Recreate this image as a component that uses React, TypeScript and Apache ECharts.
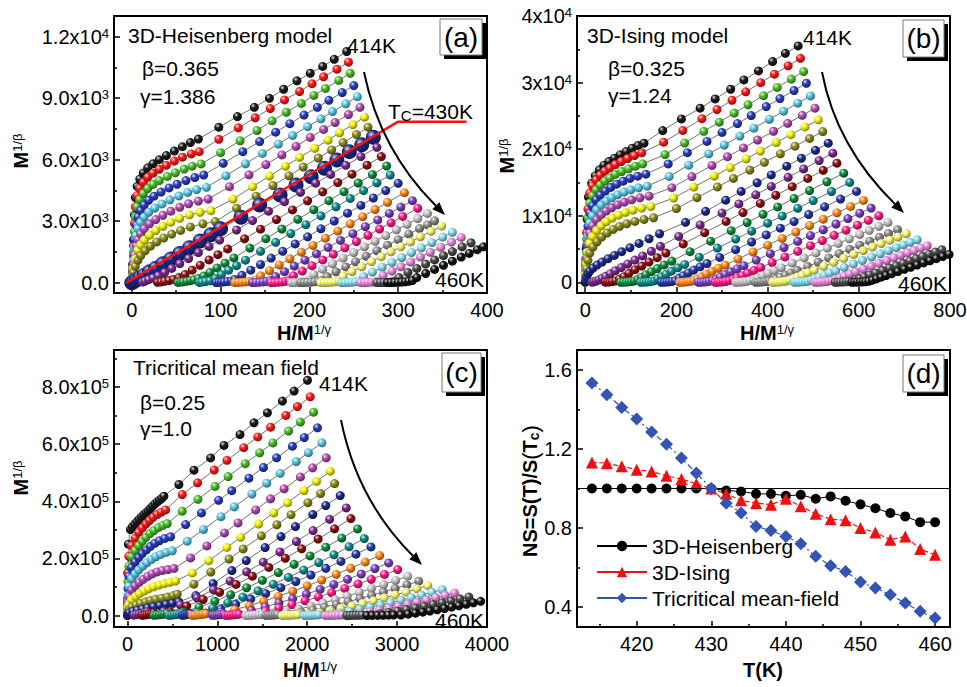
import React, { useEffect, useRef } from "react";
import * as echarts from "echarts";

const FONT = '"Liberation Sans", Arial, Helvetica, sans-serif';

// ---------- data ----------
const isoTemps = [414, 416, 418, 420, 422, 424, 426, 428, 430, 432, 434, 436, 438, 440, 442, 444, 446, 448, 450, 452, 454, 456, 458, 460];

// Panel (a) 3D-Heisenberg: flat [x, y, x, y, ...] per isotherm  (x = H/M^(1/γ), y = M^(1/β))
const heisCurves: number[][] = [
  [1,900,2,2100,3,3300,4,4150,6,4700,9,5050,13,5350,18,5600,24,5800,31,6000,39,6200,48,6420,57,6630,66,6830,75,7000,98,7580,119,8100,138,8550,155,8990,171,9430,186,9840,201,10210,215,10540,228,10890,242,11270],
  [1,700,2,1800,3,2900,4,3700,6,4250,9,4600,13,4900,18,5140,24,5340,31,5530,39,5720,48,5930,57,6120,67,6280,76,6390,98,6990,120,7550,139,8040,156,8490,172,8910,189,9320,203,9700,216,10040,231,10410,244,10750],
  [1,600,2,1500,3,2500,4,3200,6,3700,9,4050,13,4350,18,4590,24,4790,31,4980,40,5180,49,5360,59,5540,68,5680,78,5790,100,6340,122,6920,141,7420,158,7890,174,8310,191,8740,205,9130,218,9470,233,9860,246,10210],
  [1,500,2,1300,3,2100,5,2800,7,3200,10,3520,14,3790,19,4020,25,4220,33,4420,42,4620,51,4800,61,4980,71,5130,81,5250,103,5820,125,6390,144,6880,162,7340,178,7750,194,8170,209,8550,222,8890,237,9270,250,9610],
  [1,400,2,1100,3,1700,5,2300,7,2650,10,2950,14,3200,19,3430,26,3640,34,3840,43,4040,53,4230,63,4400,73,4540,84,4650,106,5220,128,5800,147,6300,165,6760,181,7180,198,7610,213,7990,226,8340,241,8720,254,9070],
  [1,350,2,900,3,1350,5,1800,7,2100,10,2380,14,2630,20,2870,27,3080,35,3290,44,3490,54,3680,64,3850,75,3980,86,4080,110,4680,132,5260,151,5760,169,6230,185,6650,201,7080,216,7470,229,7810,244,8200,257,8550],
  [1,300,2,700,4,1150,7,1600,10,1850,14,2080,20,2320,27,2540,35,2750,44,2950,54,3140,65,3310,77,3430,89,3510,114,4080,136,4680,155,5200,173,5680,189,6110,206,6550,221,6950,234,7310,249,7710,262,8070],
  [1,250,2,500,4,800,7,1100,10,1320,15,1560,21,1780,28,1990,36,2180,45,2370,55,2550,66,2720,80,2870,94,2980,118,3630,140,4220,159,4740,177,5210,193,5640,210,6080,225,6470,238,6830,253,7220,266,7580],
  [0,0,2,50,5,130,9,240,14,370,20,530,27,710,35,920,44,1160,54,1420,65,1710,77,2030,89,2340,100,2630,123,3190,144,3790,167,4280,185,4760,202,5170,217,5580,231,5980,245,6390,259,6720,272,7090],
  [12,30,15,80,19,150,24,230,30,340,37,500,45,700,54,930,64,1180,75,1470,87,1770,99,2080,118,2570,136,3030,154,3490,172,3950,190,4410,207,4850,224,5280,241,5720,258,6150,276,6600],
  [29,20,33,40,37,70,42,110,47,160,53,250,60,400,68,610,77,850,87,1110,97,1370,108,1650,127,2140,145,2610,163,3080,181,3550,198,3990,215,4430,232,4880,248,5290,265,5730,281,6150],
  [52,15,55,30,58,45,62,70,66,100,70,140,75,210,81,330,88,500,96,720,105,950,115,1210,133,1690,151,2150,169,2620,187,3090,205,3560,222,4000,239,4440,255,4860,271,5270,287,5690],
  [76,15,79,30,83,55,88,95,94,210,101,400,109,610,118,830,128,1100,145,1530,162,1970,179,2400,196,2830,213,3260,230,3700,246,4110,261,4490,276,4870,291,5250],
  [95,10,98,15,101,25,104,40,108,60,112,90,116,160,124,360,134,610,145,890,157,1200,170,1530,184,1890,198,2240,213,2630,228,3010,243,3390,258,3770,272,4130,286,4490,300,4845],
  [116,10,120,15,124,25,128,40,132,60,136,90,140,150,145,340,155,590,166,870,178,1170,191,1490,204,1820,218,2170,232,2520,246,2870,260,3220,274,3570,288,3920,307,4390],
  [136,10,140,15,144,25,148,40,152,65,156,110,162,300,172,540,183,810,195,1100,208,1410,221,1720,235,2060,249,2390,263,2730,277,3060,290,3380,303,3690,316,4000],
  [157,10,161,15,165,25,169,40,173,70,177,120,182,340,192,570,203,830,215,1110,227,1390,240,1700,253,2010,266,2310,279,2620,292,2920,305,3230,322,3626],
  [180,10,184,15,188,25,192,40,196,65,200,110,205,400,215,660,226,920,238,1200,250,1470,262,1750,274,2020,286,2300,298,2580,310,2850,322,3130,333,3380],
  [190,8,194,12,198,18,202,28,206,45,210,75,214,120,220,300,230,530,241,770,252,1020,264,1290,276,1560,288,1830,300,2100,312,2370,324,2640,333,2820,341,3020],
  [213,8,217,12,221,18,225,28,229,45,233,80,238,320,248,540,259,780,270,1030,281,1270,292,1510,303,1750,314,1990,325,2240,337,2500,349,2760],
  [236,8,240,12,244,18,248,28,252,45,256,80,261,310,271,520,282,760,293,990,304,1230,315,1470,326,1700,338,1960,350,2220,361,2455],
  [258,8,262,12,266,18,270,28,274,45,278,80,283,360,293,570,303,780,314,1010,325,1250,336,1480,348,1730,360,1980,371,2210],
  [276,6,280,10,284,15,288,22,292,35,296,80,301,250,311,500,321,700,331,910,341,1110,351,1320,361,1520,372,1750,382,1950],
  [288,6,292,10,296,14,300,20,304,30,308,45,312,70,316,110,321,250,331,450,341,650,351,850,361,1050,371,1250,380,1430,389,1610,396,1750],
];
const heisTcLine = [[-6, 0], [300, 7850], [377, 7850]];

// Panel (b) 3D-Ising
const isingCurves: number[][] = [
  [0,0,2,5000,4,9500,7,12800,14,14900,22,16000,31,16900,41,17600,52,18150,64,18650,77,19150,90,19650,103,20150,116,20550,129,20900,170,22800,211,24550,252,26150,285,27550,319,29000,348,30400,380,31750,411,33150,439,34400,467,35500],
  [1,3500,3,7500,6,11000,10,13400,16,14500,24,15400,33,16100,43,16700,54,17200,66,17700,79,18150,93,18600,108,19050,124,19450,172,21050,214,22810,256,24580,289,25960,322,27350,352,28610,385,29990,415,31260,445,32520,472,33650],
  [1,3000,3,6500,6,9700,10,11900,16,13000,24,13900,33,14600,43,15200,54,15700,66,16200,80,16650,95,17050,110,17450,126,17800,175,19190,218,20930,260,22680,294,24050,327,25420,357,26670,391,28040,421,29280,452,30530,479,31650],
  [1,2500,3,5500,6,8400,10,10400,16,11500,24,12400,33,13100,44,13700,56,14250,69,14750,83,15200,98,15600,115,15950,133,16250,182,17780,224,19480,267,21170,300,22510,334,23840,364,25050,397,26390,427,27600,458,28810,485,29900],
  [1,2000,3,4500,6,7000,10,8900,16,10000,25,10900,35,11600,46,12200,58,12700,71,13150,85,13550,100,13900,117,14200,136,14450,184,15910,227,17600,271,19300,305,20620,339,21960,370,23160,404,24490,435,25700,466,26910,494,28000],
  [1,1600,3,3600,6,5700,10,7400,16,8500,25,9400,35,10100,46,10700,58,11200,71,11650,86,12050,102,12400,120,12700,140,12950,190,14220,234,15890,278,17560,312,18870,347,20190,378,21380,413,22690,444,23880,476,25080,504,26150],
  [1,1200,3,2800,6,4500,10,5900,16,6900,25,7800,35,8500,46,9100,59,9650,73,10100,88,10500,105,10850,124,11150,144,11400,194,12670,238,14310,283,15950,318,17240,353,18540,384,19710,419,21000,451,22170,482,23340,511,24400],
  [1,900,3,2000,6,3300,10,4400,17,5300,26,6100,36,6800,48,7400,61,7950,75,8400,91,8800,109,9150,129,9450,150,9700,200,11090,245,12710,290,14330,325,15600,361,16870,393,18030,428,19300,460,20450,492,21610,521,22650],
  [1,300,3,800,6,1300,10,1700,17,2150,26,2600,37,3050,50,3550,64,4050,80,4600,98,5200,118,5850,140,6550,163,7300,220,9010,264,10670,308,12340,342,13650,377,14950,408,16140,442,17450,474,18640,505,19830,533,20900],
  [15,30,19,80,24,200,30,380,37,620,45,900,55,1300,66,1750,79,2230,93,2750,109,3340,126,3970,145,4670,165,5410,205,6890,252,8630,300,10410,337,11780,374,13150,408,14410,445,15770,479,17030,513,18290,543,19400],
  [44,20,49,40,54,70,60,120,67,220,75,500,85,850,96,1350,109,1900,124,2450,140,3050,158,3700,177,4400,215,5770,262,7460,309,9150,346,10480,384,11850,418,13080,454,14370,488,15600,522,16820,552,17900],
  [78,15,84,30,90,50,96,80,102,130,108,220,115,450,123,780,133,1150,145,1600,158,2080,173,2610,190,3200,230,4600,275,6180,320,7760,355,8980,390,10210,422,11330,458,12590,492,13780,530,15110,567,16400],
  [122,15,128,30,134,50,140,80,146,140,152,250,159,550,167,850,177,1230,189,1680,203,2180,218,2690,250,3780,290,5140,330,6500,365,7690,400,8880,432,9970,466,11120,500,12280,540,13640,580,15000],
  [167,15,173,30,179,50,185,80,191,140,198,260,206,650,215,1000,226,1420,238,1850,252,2330,267,2830,295,3750,330,4910,365,6060,397,7120,428,8140,458,9130,490,10190,525,11340,560,12500,595,13650],
  [207,15,213,30,219,50,225,80,231,140,238,260,246,500,255,850,266,1250,278,1660,292,2120,307,2600,335,3500,368,4560,400,5580,432,6600,462,7560,492,8520,522,9480,552,10440,582,11400,610,12300],
  [248,15,254,30,260,50,266,80,272,140,279,260,287,480,296,800,307,1190,319,1590,333,2030,348,2500,375,3340,406,4300,436,5230,466,6160,494,7030,522,7900,550,8760,576,9570,602,10380,627,11150],
  [285,15,291,30,297,50,303,80,309,140,316,260,324,450,333,700,344,1000,356,1360,370,1780,385,2230,410,2980,438,3820,466,4660,494,5500,520,6280,546,7060,572,7840,597,8590,621,9310,644,10000],
  [330,15,336,30,342,50,348,80,354,140,361,260,369,440,378,700,389,1020,401,1370,415,1780,430,2210,454,2910,480,3660,506,4420,531,5140,555,5840,579,6540,602,7200,623,7810,644,8420,664,9000],
  [374,15,380,30,386,50,392,80,398,130,404,200,411,300,419,520,428,780,439,1080,451,1420,465,1800,488,2380,511,3030,534,3670,557,4320,580,4960,602,5580,624,6190,645,6780,665,7340,685,7900],
  [411,15,417,30,423,50,429,80,435,120,441,190,448,340,456,560,465,810,476,1110,488,1440,502,1830,523,2410,545,3010,567,3600,589,4200,610,4760,630,5300,649,5820,668,6330,686,6810,704,7300],
  [459,15,465,30,471,50,477,80,483,120,489,190,496,340,504,540,513,780,524,1070,536,1390,549,1740,568,2240,588,2760,608,3280,628,3800,647,4290,665,4760,682,5200,698,5620,713,6010,728,6400],
  [504,15,510,30,516,50,522,80,528,120,534,180,541,280,549,470,558,700,568,950,580,1250,593,1580,610,2000,627,2430,644,2850,661,3280,677,3680,692,4050,707,4430,721,4780,736,5150,750,5500],
  [548,12,554,25,560,40,566,60,572,90,578,130,585,200,593,370,602,580,612,820,624,1110,637,1420,652,1780,667,2140,682,2500,697,2860,712,3220,726,3560,740,3890,754,4230,768,4560,782,4900],
  [585,10,591,20,597,32,603,48,609,70,615,100,622,160,630,320,639,540,649,770,660,1030,672,1300,686,1620,700,1950,714,2270,728,2590,742,2910,756,3230,770,3560,784,3880,798,4200],
];

// Panel (c) Tricritical mean field
const tricCurves: number[][] = [
  [0,0,4,150000,10,250000,33,301000,55,311000,80,320000,105,329000,130,337000,155,345000,180,353000,205,360000,230,367000,255,375000,280,383000,305,391000,330,398000,355,404000,380,410000,405,418000,572,459000,740,509000,925,552000,1074,596000,1252,634000,1408,675000,1557,710000,1724,751000,1854,786000,2003,824000],
  [1,60000,5,150000,15,207800,45,245000,85,271000,125,291000,165,307000,205,321000,245,333000,285,344000,330,354000,375,362000,424,370000,609,423800,780,464900,965,509400,1107,543600,1293,588100,1449,625700,1592,659900,1762,701000,1891,731800,2033,766000],
  [1,50000,5,120000,15,172800,45,206000,85,228000,125,245000,165,260000,205,274000,250,287000,295,298000,345,308000,395,316000,442,322000,609,365500,784,407100,974,452200,1120,486800,1310,531900,1471,570100,1617,604700,1792,646300,1924,677500,2070,712200],
  [1,40000,5,95000,15,137800,45,168000,85,188000,125,203000,165,217000,210,230000,255,242000,305,253000,355,262000,415,270000,479,276000,647,318800,823,359400,1014,403500,1160,437300,1351,481300,1513,518600,1659,552400,1835,593100,1967,623500,2114,657400],
  [1,30000,5,70000,15,102800,45,129000,85,146000,125,160000,170,173000,215,185000,265,196000,315,206000,370,214000,430,221000,498,227000,665,260400,845,301700,1040,346500,1189,381000,1384,425700,1549,463600,1699,498000,1878,539400,2013,570400,2163,604800],
  [1,22000,5,50000,15,67800,45,90000,85,104000,130,116000,175,127000,225,137000,275,146000,330,153000,390,158000,450,161000,517,165000,702,202000,883,244000,1079,289600,1230,324600,1426,370100,1592,408700,1743,443700,1924,485700,2060,517300,2211,552300],
  [2,15000,6,30000,15,38600,45,56000,90,67000,135,77000,185,86000,235,94000,290,101000,350,107000,410,112000,470,116000,535,121000,721,149400,905,192100,1105,238500,1258,274100,1458,320400,1627,359600,1780,395200,1964,437900,2103,470000,2256,505600],
  [2,8000,8,16000,20,21000,50,30000,95,37000,145,43000,200,48000,255,53000,315,57000,380,61000,445,65000,510,70000,554,75000,739,110000,927,152300,1130,198100,1287,233300,1490,279200,1662,318000,1819,353200,2007,395500,2148,427200,2304,462400],
  [2,3000,8,7000,20,10000,60,15000,110,19000,165,23000,225,27000,290,31000,360,35000,430,39000,500,43000,570,48000,760,70000,953,112000,1162,157600,1322,192600,1531,238100,1708,276700,1869,311700,2062,353700,2206,385300,2367,420300],
  [71,1500,100,3000,130,5000,160,7000,190,9500,219,12500,404,14700,588,37000,773,62200,957,90500,1142,121000,1326,153100,1511,187000,1696,222900,1880,259400,2065,297500,2249,337100,2434,377100],
  [164,1000,190,2000,216,3000,242,4500,268,6500,294,9000,477,13300,659,33300,842,56100,1025,81600,1208,109100,1390,138000,1573,168500,1756,200800,1938,233800,2121,268100,2304,303800,2486,339800],
  [294,1000,324,1800,354,2800,384,4000,413,5500,442,7500,619,11800,795,29800,972,50100,1148,72900,1325,97500,1501,123300,1678,150600,1854,179400,2031,208900,2207,239500,2384,271400,2560,303600],
  [461,1000,491,1800,520,2800,550,4000,580,5500,609,7500,778,10500,947,26400,1116,44500,1284,64700,1453,86600,1622,109500,1791,133800,1960,159400,2129,185600,2297,212800,2466,241100,2635,269700],
  [609,1000,628,1800,646,2800,665,4000,684,5500,702,7000,869,9400,1037,23600,1204,39700,1371,57700,1538,77200,1706,97600,1873,119300,2040,142100,2207,165500,2375,189800,2542,215000,2709,240500],
  [721,800,751,1500,781,2300,811,3300,840,4600,870,6200,1031,8200,1193,20600,1354,34700,1515,50400,1677,67500,1838,85300,1999,104300,2161,124200,2322,144600,2483,165800,2645,187900,2806,210200],
  [944,800,970,1400,996,2100,1022,3000,1048,4100,1074,5400,1227,7200,1379,18100,1532,30400,1685,44300,1837,59200,1990,74900,2143,91500,2295,109000,2448,126900,2601,145600,2753,164900,2906,184500],
  [1093,700,1123,1200,1152,1800,1182,2600,1211,3600,1241,4800,1388,6300,1535,15800,1682,26600,1829,38700,1976,51700,2124,65400,2271,79900,2418,95200,2565,110800,2712,127100,2859,144000,3006,161100],
  [1315,600,1352,1000,1389,1500,1427,2200,1464,3100,1501,4200,1636,5400,1771,13500,1905,22700,2040,33100,2175,44200,2310,55900,2444,68300,2579,81400,2714,94800,2849,108700,2983,123200,3118,137800],
  [1538,500,1564,900,1590,1300,1617,1900,1643,2700,1669,3600,1800,4700,1931,11800,2062,19800,2193,28900,2324,38600,2455,48800,2586,59700,2716,71100,2847,82800,2978,94900,3109,107500,3240,120300],
  [1724,500,1758,800,1791,1200,1825,1700,1858,2400,1892,3200,2013,4100,2134,10300,2254,17300,2375,25200,2496,33700,2617,42700,2737,52100,2858,62100,2979,72300,3100,82900,3220,94000,3341,105100],
  [1966,400,1998,700,2030,1000,2062,1500,2094,2100,2126,2800,2241,3600,2355,8900,2470,15000,2584,21900,2699,29200,2814,37000,2928,45200,3043,53800,3157,62700,3272,71900,3386,81400,3501,91100],
  [2200,400,2237,600,2274,900,2312,1300,2349,1800,2386,2400,2490,3100,2595,7800,2699,13100,2803,19100,2908,25500,3012,32200,3116,39400,3221,46900,3325,54600,3430,62600,3534,71000,3638,79400],
  [2441,300,2475,500,2508,800,2542,1100,2575,1500,2609,2000,2708,2600,2807,6400,2906,10800,3005,15700,3104,21000,3204,26600,3303,32400,3402,38700,3501,45000,3600,51600,3699,58500,3798,65400],
  [2665,300,2724,500,2784,700,2843,1000,2903,1300,2962,1700,3043,2000,3123,4900,3204,8300,3285,12000,3365,16100,3446,20300,3527,24800,3607,29600,3688,34400,3769,39500,3849,44700,3930,50000],
];

// Panel (d) normalized slope NS = S(T)/S(Tc)
const nsTemps = [414, 416, 418, 420, 422, 424, 426, 428, 430, 432, 434, 436, 438, 440, 442, 444, 446, 448, 450, 452, 454, 456, 458, 460];
const nsHeisenberg = [1.0, 1.0, 1.0, 1.0, 1.0, 1.0, 1.0, 1.0, 1.0, 0.99, 0.985, 0.973, 0.973, 0.963, 0.968, 0.948, 0.96, 0.938, 0.92, 0.9, 0.876, 0.859, 0.83, 0.83];
const nsIsing = [1.132, 1.128, 1.112, 1.095, 1.086, 1.064, 1.048, 1.024, 1.0, 0.973, 0.94, 0.926, 0.918, 0.948, 0.91, 0.872, 0.845, 0.839, 0.8, 0.778, 0.741, 0.758, 0.694, 0.665];
const nsTricritical = [1.533, 1.474, 1.41, 1.351, 1.285, 1.224, 1.154, 1.078, 1.0, 0.926, 0.876, 0.808, 0.788, 0.758, 0.721, 0.657, 0.61, 0.581, 0.527, 0.497, 0.463, 0.421, 0.379, 0.345];

// tick values and labels ("^" marks the exponent)
const heisXTicks = [0, 100, 200, 300, 400];
const heisXLabels = ["0", "100", "200", "300", "400"];
const heisXMinor = [50, 150, 250, 350];
const heisYTicks = [0, 3000, 6000, 9000, 12000];
const heisYLabels = ["0.0", "3.0x10^3", "6.0x10^3", "9.0x10^3", "1.2x10^4"];
const heisYMinor = [1500, 4500, 7500, 10500];

const isingXTicks = [0, 200, 400, 600, 800];
const isingXLabels = ["0", "200", "400", "600", "800"];
const isingXMinor = [100, 300, 500, 700];
const isingYTicks = [0, 10000, 20000, 30000, 40000];
const isingYLabels = ["0", "1x10^4", "2x10^4", "3x10^4", "4x10^4"];
const isingYMinor = [5000, 15000, 25000, 35000];

const tricXTicks = [0, 1000, 2000, 3000, 4000];
const tricXLabels = ["0", "1000", "2000", "3000", "4000"];
const tricXMinor = [500, 1500, 2500, 3500];
const tricYTicks = [0, 200000, 400000, 600000, 800000];
const tricYLabels = ["0.0", "2.0x10^5", "4.0x10^5", "6.0x10^5", "8.0x10^5"];
const tricYMinor = [100000, 300000, 500000, 700000, 900000];

const nsXTicks = [420, 430, 440, 450, 460];
const nsXLabels = ["420", "430", "440", "450", "460"];
const nsXMinor = [415, 425, 435, 445, 455];
const nsYTicks = [0.4, 0.8, 1.2, 1.6];
const nsYLabels = ["0.4", "0.8", "1.2", "1.6"];
const nsYMinor = [0.6, 1.0, 1.4];

// ---------- styling helpers ----------
const ballColors = ["#1a1a1a", "#ff1a1a", "#4cc02a", "#2a3fc0", "#5cc8e8", "#b44cb4", "#f2f20a", "#8c8c1c", "#1c2a8c", "#7c2a8c", "#8c1010", "#108c3c", "#108c8c", "#2838a8", "#ff8a1a", "#7a40c0", "#ff1a8a", "#c4c4c4", "#8a8a8a", "#f6f66e", "#86dcf0", "#e88ade", "#4a4a4a", "#111111"];

function mixHex(hex: string, t: number, target: number) {
  const n = parseInt(hex.slice(1), 16);
  const r = (n >> 16) & 255, g = (n >> 8) & 255, b = n & 255;
  const m = (c: number) => Math.round(c + (target - c) * t);
  return `rgb(${m(r)},${m(g)},${m(b)})`;
}
function ball(hex: string) {
  return new echarts.graphic.RadialGradient(0.36, 0.32, 0.72, [
    { offset: 0, color: mixHex(hex, 0.85, 255) },
    { offset: 0.38, color: hex },
    { offset: 1, color: mixHex(hex, 0.5, 0) },
  ]);
}
const pairs = (flat: number[]) => {
  const out: number[][] = [];
  for (let i = 0; i < flat.length; i += 2) out.push([flat[i], flat[i + 1]]);
  return out;
};
const zip = (a: number[], b: number[]) => a.map((v, i) => [v, b[i]]);

const tickRich = {
  m: { fontSize: 20, fontFamily: FONT, color: "#000", lineHeight: 20 },
  s: { fontSize: 13, fontFamily: FONT, color: "#000", lineHeight: 11, verticalAlign: "top" },
};
function labelFormatter(ticks: number[], labels: string[]) {
  return (v: number) => {
    const i = ticks.findIndex((t) => Math.abs(t - v) <= 1e-6 * Math.max(1, Math.abs(t)));
    if (i < 0) return "";
    const [m, e] = labels[i].split("^");
    return e ? `{m|${m}}{s|${e}}` : `{m|${m}}`;
  };
}

type AxisDef = { min: number; max: number; ticks: number[]; labels: string[]; minor: number[] };
const panels: { x: AxisDef; y: AxisDef; grid: any }[] = [
  { grid: { left: 114, top: 16, width: 373, height: 277 }, x: { min: -20, max: 400, ticks: heisXTicks, labels: heisXLabels, minor: heisXMinor }, y: { min: -500, max: 13000, ticks: heisYTicks, labels: heisYLabels, minor: heisYMinor } },
  { grid: { left: 577, top: 16, width: 373, height: 277 }, x: { min: -18, max: 800, ticks: isingXTicks, labels: isingXLabels, minor: isingXMinor }, y: { min: -1600, max: 40000, ticks: isingYTicks, labels: isingYLabels, minor: isingYMinor } },
  { grid: { left: 114, top: 350, width: 373, height: 277 }, x: { min: -150, max: 4000, ticks: tricXTicks, labels: tricXLabels, minor: tricXMinor }, y: { min: -40000, max: 930000, ticks: tricYTicks, labels: tricYLabels, minor: tricYMinor } },
  { grid: { left: 577, top: 350, width: 373, height: 277 }, x: { min: 412, max: 462, ticks: nsXTicks, labels: nsXLabels, minor: nsXMinor }, y: { min: 0.3, max: 1.7, ticks: nsYTicks, labels: nsYLabels, minor: nsYMinor } },
];

function mainAxis(g: number, d: AxisDef, isX: boolean) {
  return {
    type: "value", gridIndex: g, min: d.min, max: d.max, position: isX ? "bottom" : "left",
    axisLine: { show: false, onZero: false }, splitLine: { show: false },
    axisTick: { show: true, inside: true, length: 6, customValues: d.ticks, lineStyle: { color: "#000", width: 1.5 } },
    axisLabel: { show: true, customValues: d.ticks, formatter: labelFormatter(d.ticks, d.labels), rich: tickRich, margin: isX ? 7 : 5, color: "#000" },
  };
}
function minorAxis(g: number, d: AxisDef, isX: boolean) {
  return {
    type: "value", gridIndex: g, min: d.min, max: d.max, position: isX ? "bottom" : "left",
    axisLine: { show: false, onZero: false }, splitLine: { show: false }, axisLabel: { show: false },
    axisTick: { show: true, inside: true, length: 3, customValues: d.minor, lineStyle: { color: "#000", width: 1.5 } },
  };
}

function isoSeries(curves: number[][], g: number, bigIndex: number) {
  return curves.map((flat, i) => ({
    type: "line", name: `${isoTemps[i]}K`, xAxisIndex: g, yAxisIndex: g,
    data: pairs(flat), symbol: "circle", symbolSize: i === bigIndex ? 15 : 9, showSymbol: true,
    lineStyle: { color: "#333", width: 0.7 }, itemStyle: { color: ball(ballColors[i]), borderWidth: 0 },
    silent: true, z: 2,
  }));
}

// ---------- graphic helpers ----------
const txt = (x: number, y: number, text: string, size = 21) => ({
  type: "text", x, y, z: 100,
  style: { text, font: `${size}px ${FONT}`, fill: "#000", align: "left", verticalAlign: "middle" },
});
const richTxt = (x: number, y: number, text: string, rich: any, rotation = 0, align = "center") => ({
  type: "text", x, y, rotation, z: 100,
  style: { text, rich, fontFamily: FONT, fontSize: 20, fill: "#000", align, verticalAlign: "middle" },
});
const nameRich = {
  b: { fontSize: 20, fontWeight: "bold", fontFamily: FONT, color: "#000", lineHeight: 20 },
  s: { fontSize: 13, fontFamily: FONT, color: "#000", lineHeight: 11, verticalAlign: "top" },
  sub: { fontSize: 14, fontWeight: "bold", fontFamily: FONT, color: "#000", lineHeight: 14, verticalAlign: "bottom" },
  p: { fontSize: 22, fontFamily: FONT, color: "#000", lineHeight: 22 },
};
const tcRich = {
  n: { fontSize: 21, fontFamily: FONT, color: "#000", lineHeight: 24 },
  sub: { fontSize: 15, fontFamily: FONT, color: "#000", lineHeight: 15, verticalAlign: "bottom" },
};
const box = (x: number, y: number, w: number, h: number, label: string) => [
  { type: "rect", z: 100, shape: { x: x + 4, y: y + 4, width: w, height: h }, style: { fill: "#000" } },
  { type: "rect", z: 101, shape: { x, y, width: w, height: h }, style: { fill: "#fff", stroke: "#777", lineWidth: 1 } },
  { type: "text", z: 102, x: x + w / 2, y: y + h / 2, style: { text: label, font: `28px ${FONT}`, fill: "#000", align: "center", verticalAlign: "middle" } },
];
const arrow = (x1: number, y1: number, cx: number, cy: number, x2: number, y2: number) => {
  const dx = x2 - cx, dy = y2 - cy, L = Math.hypot(dx, dy);
  const ux = dx / L, uy = dy / L;
  const bx = x2 - 13 * ux, by = y2 - 13 * uy;
  return [
    { type: "bezierCurve", z: 100, shape: { x1, y1, x2: bx, y2: by, cpx1: cx, cpy1: cy }, style: { stroke: "#000", lineWidth: 2, fill: "none" } },
    { type: "polygon", z: 100, shape: { points: [[x2, y2], [bx - 5 * uy, by + 5 * ux], [bx + 5 * uy, by - 5 * ux]] }, style: { fill: "#000" } },
  ];
};

export default function App() {
  const ref = useRef<HTMLDivElement>(null);
  useEffect(() => {
    document.body.style.margin = "0";
    if (!ref.current) return;
    const chart = echarts.init(ref.current, null, { renderer: "svg" });

    const grids = panels.map((p) => ({ ...p.grid, show: true, borderColor: "#000", borderWidth: 2, backgroundColor: "transparent", containLabel: false, outerBoundsMode: "none" }));
    const xAxis = [...panels.map((p, g) => mainAxis(g, p.x, true)), ...panels.map((p, g) => minorAxis(g, p.x, true))];
    const yAxis = [...panels.map((p, g) => mainAxis(g, p.y, false)), ...panels.map((p, g) => minorAxis(g, p.y, false))];

    const series: any[] = [
      ...isoSeries(heisCurves, 0, 8),
      { type: "line", name: "Tc line", xAxisIndex: 0, yAxisIndex: 0, data: heisTcLine, symbol: "none", lineStyle: { color: "#ff1010", width: 2.5 }, silent: true, z: 5 },
      ...isoSeries(isingCurves, 1, -1),
      ...isoSeries(tricCurves, 2, -1),
      {
        type: "line", name: "3D-Heisenberg", xAxisIndex: 3, yAxisIndex: 3, data: zip(nsTemps, nsHeisenberg),
        symbol: "circle", symbolSize: 10, itemStyle: { color: "#000", borderWidth: 0 }, lineStyle: { color: "#000", width: 1 }, z: 3,
        markLine: { silent: true, symbol: ["none", "none"], label: { show: false }, lineStyle: { color: "#000", width: 1, type: "solid" }, data: [{ yAxis: 1 }] },
      },
      { type: "line", name: "3D-Ising", xAxisIndex: 3, yAxisIndex: 3, data: zip(nsTemps, nsIsing), symbol: "triangle", symbolSize: 12, itemStyle: { color: "#ee1111", borderWidth: 0 }, lineStyle: { color: "#ee1111", width: 1.2, type: "dashed" }, z: 4 },
      { type: "line", name: "Tricritical mean-field", xAxisIndex: 3, yAxisIndex: 3, data: zip(nsTemps, nsTricritical), symbol: "diamond", symbolSize: 13, itemStyle: { color: "#3454b4", borderWidth: 0 }, lineStyle: { color: "#3454b4", width: 1.2, type: [6, 3, 2, 3] }, z: 5 },
    ];

    const graphic: any[] = [
      // panel (a)
      txt(128, 35, "3D-Heisenberg model"), txt(142, 68, "β=0.365"), txt(140, 96, "γ=1.386"),
      txt(347, 45, "414K"), txt(435, 279, "460K"),
      richTxt(388, 111, "{n|T}{sub|C}{n|=430K}", tcRich, 0, "left"),
      ...arrow(364, 72, 380, 150, 445, 215),
      ...box(440, 19, 42, 36, "(a)"),
      // panel (b)
      txt(587, 35, "3D-Ising model"), txt(608, 68, "β=0.325"), txt(608, 95, "γ=1.24"),
      txt(803, 37, "414K"), txt(898, 283, "460K"),
      ...arrow(822, 72, 836, 146, 904, 213),
      ...box(903, 20, 41, 37, "(b)"),
      // panel (c)
      txt(133, 367, "Tricritical mean field"), txt(140, 402, "β=0.25"), txt(140, 428, "γ=1.0"),
      txt(319, 383, "414K"), txt(435, 620, "460K"),
      ...arrow(341, 420, 357, 500, 422, 565),
      ...box(442, 353, 39, 39, "(c)"),
      // panel (d)
      ...box(903, 355, 41, 37, "(d)"),
      // axis names
      richTxt(304, 333, "{b|H/M}{s|1/γ}", nameRich),
      richTxt(767, 333, "{b|H/M}{s|1/γ}", nameRich),
      richTxt(310, 670, "{b|H/M}{s|1/γ}", nameRich),
      richTxt(763, 670, "{b|T(K)}", nameRich),
      richTxt(21, 151, "{b|M}{s|1/β}", nameRich, Math.PI / 2),
      richTxt(507, 156, "{b|M}{s|1/β}", nameRich, Math.PI / 2),
      richTxt(21, 478, "{b|M}{s|1/β}", nameRich, Math.PI / 2),
      richTxt(530, 491, "{b|NS=S(T)/S}{p|(}{b|T}{sub|c}{p|)}", nameRich, Math.PI / 2),
    ];

    chart.setOption({
      animation: false,
      backgroundColor: "#fff",
      textStyle: { fontFamily: FONT },
      grid: grids,
      xAxis,
      yAxis,
      legend: {
        data: ["3D-Heisenberg", "3D-Ising", "Tricritical mean-field"],
        orient: "vertical", left: 591, top: 529, itemWidth: 50, itemHeight: 13, itemGap: 2,
        selectedMode: false, lineStyle: { type: "solid", width: 2 },
        textStyle: { fontSize: 21, fontFamily: FONT, color: "#000", lineHeight: 24 },
      },
      series,
      graphic,
    });
    return () => chart.dispose();
  }, []);
  return <div ref={ref} style={{ width: 967, height: 687 }} />;
}
